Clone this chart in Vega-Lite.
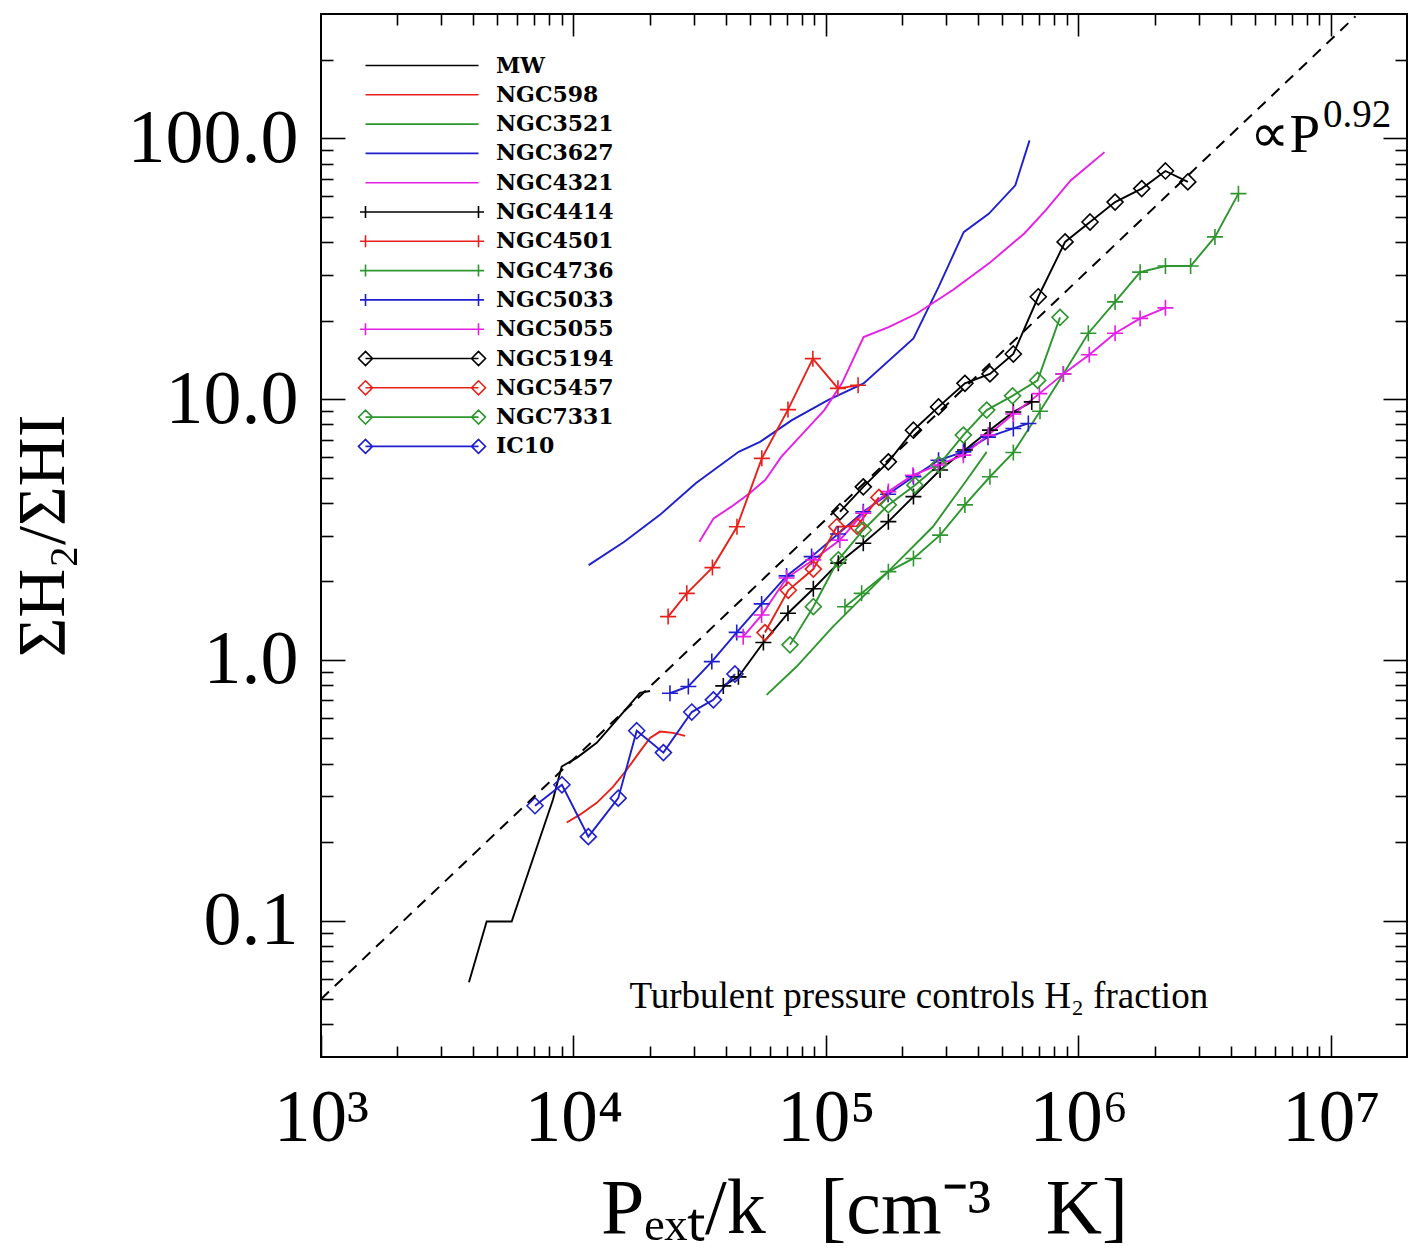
{
  "$schema": "https://vega.github.io/schema/vega-lite/v6.json",
  "width": 1086,
  "height": 1043,
  "autosize": {"type": "none"},
  "padding": {"left": 321, "top": 14, "right": 7, "bottom": 191},
  "background": "white",
  "config": {
    "view": {"stroke": "#000000", "strokeWidth": 2},
    "axis": {"domain": false, "grid": false, "tickColor": "#000000", "tickWidth": 1.6, "labelColor": "#000000", "titleColor": "#000000", "labelOverlap": false, "labelFlush": false, "labelBound": false}
  },
  "datasets": {
    "galaxies": [
      {"s": "MW", "x": 3855, "y": 0.058}, {"s": "MW", "x": 4530, "y": 0.0993}, {"s": "MW", "x": 5690, "y": 0.0993}, {"s": "MW", "x": 8290, "y": 0.291}, {"s": "MW", "x": 8980, "y": 0.39}, {"s": "MW", "x": 10300, "y": 0.421}, {"s": "MW", "x": 12360, "y": 0.481}, {"s": "MW", "x": 14830, "y": 0.589}, {"s": "MW", "x": 18330, "y": 0.748}, {"s": "MW", "x": 20100, "y": 0.76},
      {"s": "NGC598", "x": 9400, "y": 0.238}, {"s": "NGC598", "x": 10610, "y": 0.255}, {"s": "NGC598", "x": 12360, "y": 0.283}, {"s": "NGC598", "x": 14330, "y": 0.326}, {"s": "NGC598", "x": 16250, "y": 0.379}, {"s": "NGC598", "x": 18340, "y": 0.446}, {"s": "NGC598", "x": 20100, "y": 0.502}, {"s": "NGC598", "x": 22000, "y": 0.531}, {"s": "NGC598", "x": 24800, "y": 0.525}, {"s": "NGC598", "x": 27700, "y": 0.511},
      {"s": "NGC3521", "x": 58200, "y": 0.734}, {"s": "NGC3521", "x": 76500, "y": 0.943}, {"s": "NGC3521", "x": 106600, "y": 1.342}, {"s": "NGC3521", "x": 145000, "y": 1.807}, {"s": "NGC3521", "x": 196000, "y": 2.42}, {"s": "NGC3521", "x": 265000, "y": 3.24}, {"s": "NGC3521", "x": 361000, "y": 4.9}, {"s": "NGC3521", "x": 433000, "y": 6.28},
      {"s": "NGC3627", "x": 11480, "y": 2.31}, {"s": "NGC3627", "x": 15890, "y": 2.84}, {"s": "NGC3627", "x": 22000, "y": 3.6}, {"s": "NGC3627", "x": 30500, "y": 4.76}, {"s": "NGC3627", "x": 45100, "y": 6.28}, {"s": "NGC3627", "x": 54800, "y": 6.86}, {"s": "NGC3627", "x": 73300, "y": 8.31}, {"s": "NGC3627", "x": 101800, "y": 9.92}, {"s": "NGC3627", "x": 140900, "y": 11.5}, {"s": "NGC3627", "x": 222000, "y": 17.1}, {"s": "NGC3627", "x": 279000, "y": 26.9}, {"s": "NGC3627", "x": 351000, "y": 43.7}, {"s": "NGC3627", "x": 441000, "y": 51.4}, {"s": "NGC3627", "x": 562000, "y": 66.1}, {"s": "NGC3627", "x": 640000, "y": 98.3},
      {"s": "NGC4321", "x": 31500, "y": 2.84}, {"s": "NGC4321", "x": 35900, "y": 3.49}, {"s": "NGC4321", "x": 42200, "y": 3.87}, {"s": "NGC4321", "x": 49700, "y": 4.35}, {"s": "NGC4321", "x": 57500, "y": 4.9}, {"s": "NGC4321", "x": 66600, "y": 6.02}, {"s": "NGC4321", "x": 81000, "y": 7.39}, {"s": "NGC4321", "x": 98500, "y": 9.08}, {"s": "NGC4321", "x": 115600, "y": 11.5}, {"s": "NGC4321", "x": 140900, "y": 17.3}, {"s": "NGC4321", "x": 177000, "y": 18.9}, {"s": "NGC4321", "x": 229000, "y": 21.3}, {"s": "NGC4321", "x": 318000, "y": 26.2}, {"s": "NGC4321", "x": 441000, "y": 33.1}, {"s": "NGC4321", "x": 610000, "y": 43.2}, {"s": "NGC4321", "x": 741000, "y": 53.0}, {"s": "NGC4321", "x": 931000, "y": 69.0}, {"s": "NGC4321", "x": 1268000, "y": 88.6},
      {"s": "NGC4414", "x": 39200, "y": 0.795}, {"s": "NGC4414", "x": 45000, "y": 0.861}, {"s": "NGC4414", "x": 56500, "y": 1.166}, {"s": "NGC4414", "x": 70700, "y": 1.51}, {"s": "NGC4414", "x": 89100, "y": 1.875}, {"s": "NGC4414", "x": 111900, "y": 2.35}, {"s": "NGC4414", "x": 140500, "y": 2.8}, {"s": "NGC4414", "x": 176600, "y": 3.39}, {"s": "NGC4414", "x": 222000, "y": 4.23}, {"s": "NGC4414", "x": 283000, "y": 5.35}, {"s": "NGC4414", "x": 355000, "y": 6.38}, {"s": "NGC4414", "x": 446000, "y": 7.61}, {"s": "NGC4414", "x": 552000, "y": 8.93}, {"s": "NGC4414", "x": 653000, "y": 9.76},
      {"s": "NGC4501", "x": 23700, "y": 1.466}, {"s": "NGC4501", "x": 28100, "y": 1.8}, {"s": "NGC4501", "x": 35500, "y": 2.26}, {"s": "NGC4501", "x": 44400, "y": 3.24}, {"s": "NGC4501", "x": 55700, "y": 5.93}, {"s": "NGC4501", "x": 70700, "y": 9.12}, {"s": "NGC4501", "x": 88700, "y": 14.3}, {"s": "NGC4501", "x": 111500, "y": 11.0}, {"s": "NGC4501", "x": 134000, "y": 11.3},
      {"s": "NGC4736", "x": 118900, "y": 1.6}, {"s": "NGC4736", "x": 138400, "y": 1.8}, {"s": "NGC4736", "x": 176600, "y": 2.18}, {"s": "NGC4736", "x": 222000, "y": 2.45}, {"s": "NGC4736", "x": 283000, "y": 3.01}, {"s": "NGC4736", "x": 355000, "y": 3.93}, {"s": "NGC4736", "x": 446000, "y": 5.04}, {"s": "NGC4736", "x": 552000, "y": 6.24}, {"s": "NGC4736", "x": 704000, "y": 8.99}, {"s": "NGC4736", "x": 871000, "y": 12.5}, {"s": "NGC4736", "x": 1094000, "y": 17.9}, {"s": "NGC4736", "x": 1396000, "y": 23.6}, {"s": "NGC4736", "x": 1754000, "y": 30.7}, {"s": "NGC4736", "x": 2210000, "y": 32.4}, {"s": "NGC4736", "x": 2780000, "y": 32.4}, {"s": "NGC4736", "x": 3470000, "y": 41.9}, {"s": "NGC4736", "x": 4300000, "y": 61.4},
      {"s": "NGC5033", "x": 24100, "y": 0.745}, {"s": "NGC5033", "x": 28500, "y": 0.791}, {"s": "NGC5033", "x": 35300, "y": 0.985}, {"s": "NGC5033", "x": 44300, "y": 1.275}, {"s": "NGC5033", "x": 55600, "y": 1.64}, {"s": "NGC5033", "x": 69800, "y": 2.1}, {"s": "NGC5033", "x": 87700, "y": 2.49}, {"s": "NGC5033", "x": 111600, "y": 3.04}, {"s": "NGC5033", "x": 140500, "y": 3.7}, {"s": "NGC5033", "x": 176200, "y": 4.32}, {"s": "NGC5033", "x": 222000, "y": 5.04}, {"s": "NGC5033", "x": 279000, "y": 5.83}, {"s": "NGC5033", "x": 350000, "y": 6.28}, {"s": "NGC5033", "x": 438000, "y": 7.15}, {"s": "NGC5033", "x": 552000, "y": 7.72}, {"s": "NGC5033", "x": 633000, "y": 8.07},
      {"s": "NGC5055", "x": 47000, "y": 1.228}, {"s": "NGC5055", "x": 55600, "y": 1.486}, {"s": "NGC5055", "x": 69800, "y": 2.06}, {"s": "NGC5055", "x": 89100, "y": 2.42}, {"s": "NGC5055", "x": 113500, "y": 2.88}, {"s": "NGC5055", "x": 140500, "y": 3.65}, {"s": "NGC5055", "x": 176600, "y": 4.42}, {"s": "NGC5055", "x": 221000, "y": 5.11}, {"s": "NGC5055", "x": 278000, "y": 5.59}, {"s": "NGC5055", "x": 350000, "y": 6.1}, {"s": "NGC5055", "x": 439000, "y": 7.28}, {"s": "NGC5055", "x": 552000, "y": 8.77}, {"s": "NGC5055", "x": 700000, "y": 10.5}, {"s": "NGC5055", "x": 871000, "y": 12.5}, {"s": "NGC5055", "x": 1103000, "y": 14.8}, {"s": "NGC5055", "x": 1396000, "y": 17.9}, {"s": "NGC5055", "x": 1754000, "y": 20.4}, {"s": "NGC5055", "x": 2210000, "y": 22.4},
      {"s": "NGC5194", "x": 113600, "y": 3.7}, {"s": "NGC5194", "x": 140500, "y": 4.61}, {"s": "NGC5194", "x": 176600, "y": 5.75}, {"s": "NGC5194", "x": 222000, "y": 7.6}, {"s": "NGC5194", "x": 279000, "y": 9.34}, {"s": "NGC5194", "x": 355000, "y": 11.5}, {"s": "NGC5194", "x": 446000, "y": 12.5}, {"s": "NGC5194", "x": 552000, "y": 14.9}, {"s": "NGC5194", "x": 693000, "y": 24.7}, {"s": "NGC5194", "x": 885000, "y": 40.1}, {"s": "NGC5194", "x": 1111000, "y": 47.8}, {"s": "NGC5194", "x": 1396000, "y": 57.0}, {"s": "NGC5194", "x": 1780000, "y": 64.2}, {"s": "NGC5194", "x": 2210000, "y": 75.0}, {"s": "NGC5194", "x": 2710000, "y": 68.1},
      {"s": "NGC5457", "x": 57300, "y": 1.273}, {"s": "NGC5457", "x": 70900, "y": 1.85}, {"s": "NGC5457", "x": 89100, "y": 2.23}, {"s": "NGC5457", "x": 110300, "y": 3.24}, {"s": "NGC5457", "x": 132700, "y": 3.26}, {"s": "NGC5457", "x": 162000, "y": 4.2},
      {"s": "NGC7331", "x": 72000, "y": 1.142}, {"s": "NGC7331", "x": 89100, "y": 1.6}, {"s": "NGC7331", "x": 111900, "y": 2.42}, {"s": "NGC7331", "x": 140500, "y": 3.15}, {"s": "NGC7331", "x": 176600, "y": 3.93}, {"s": "NGC7331", "x": 225000, "y": 4.68}, {"s": "NGC7331", "x": 280000, "y": 5.6}, {"s": "NGC7331", "x": 350000, "y": 7.28}, {"s": "NGC7331", "x": 433000, "y": 9.08}, {"s": "NGC7331", "x": 548000, "y": 10.3}, {"s": "NGC7331", "x": 689000, "y": 11.8}, {"s": "NGC7331", "x": 845000, "y": 20.6},
      {"s": "IC10", "x": 7040, "y": 0.276}, {"s": "IC10", "x": 9000, "y": 0.332}, {"s": "IC10", "x": 11450, "y": 0.21}, {"s": "IC10", "x": 15040, "y": 0.295}, {"s": "IC10", "x": 17800, "y": 0.535}, {"s": "IC10", "x": 22700, "y": 0.441}, {"s": "IC10", "x": 29400, "y": 0.631}, {"s": "IC10", "x": 35800, "y": 0.703}, {"s": "IC10", "x": 43600, "y": 0.883}
    ],
    "powerlaw": [
      {"x": 1000, "y": 0.05},
      {"x": 12500000, "y": 293.9}
    ]
  },
  "layer": [
    {
      "data": {"name": "galaxies"},
      "mark": {"type": "line", "strokeWidth": 1.9, "clip": true},
      "encoding": {
        "x": {"field": "x", "type": "quantitative", "scale": {"type": "log", "domain": [1000, 20000000], "nice": false},
          "axis": {"orient": "bottom", "values": [1000,2000,3000,4000,5000,6000,7000,8000,9000,10000,20000,30000,40000,50000,60000,70000,80000,90000,100000,200000,300000,400000,500000,600000,700000,800000,900000,1000000,2000000,3000000,4000000,5000000,6000000,7000000,8000000,9000000,10000000],
            "tickSize": {"condition": {"test": "abs(log(datum.value)/LN10 - round(log(datum.value)/LN10)) < 0.01", "value": -22}, "value": -11},
            "labelExpr": "abs(log(datum.value)/LN10 - round(log(datum.value)/LN10)) < 0.01 ? '10' + ['⁰','¹','²','³','⁴','⁵','⁶','⁷','⁸'][round(log(datum.value)/LN10)] : ''",
            "labelFont": "Liberation Serif", "labelFontSize": 73, "labelPadding": 47,
            "title": "Pₑₓₜ/k\u2002\u2009[cm⁻³\u2002\u2009K]", "titleFont": "Liberation Serif", "titleFontSize": 78, "titleFontWeight": "normal", "titleBaseline": "alphabetic", "titleY": 175}},
        "y": {"field": "y", "type": "quantitative", "scale": {"type": "log", "domain": [0.03, 300], "nice": false},
          "axis": {"orient": "left", "values": [0.04,0.05,0.06,0.07,0.08,0.09,0.1,0.2,0.3,0.4,0.5,0.6,0.7,0.8,0.9,1,2,3,4,5,6,7,8,9,10,20,30,40,50,60,70,80,90,100,200],
            "tickSize": {"condition": {"test": "abs(log(datum.value)/LN10 - round(log(datum.value)/LN10)) < 0.01", "value": -24}, "value": -12},
            "labelExpr": "abs(log(datum.value)/LN10 - round(log(datum.value)/LN10)) < 0.01 ? format(datum.value, '.1f') : ''",
            "labelFont": "Liberation Serif", "labelFontSize": 76, "labelPadding": 47,
            "title": "ΣH₂/ΣHI", "titleFont": "Liberation Serif", "titleFontSize": 68, "titleFontWeight": "normal", "titleBaseline": "alphabetic", "titleAngle": 270, "titleX": -258}},
        "color": {"field": "s", "type": "nominal",
          "scale": {"domain": ["MW","NGC598","NGC3521","NGC3627","NGC4321","NGC4414","NGC4501","NGC4736","NGC5033","NGC5055","NGC5194","NGC5457","NGC7331","IC10"],
                    "range": ["#000000","#e8201a","#2e962e","#1f1fd0","#e61ee6","#000000","#e8201a","#2e962e","#1f1fd0","#e61ee6","#000000","#e8201a","#2e962e","#1f1fd0"]},
          "legend": null}
      }
    },
    {
      "data": {"name": "galaxies"},
      "transform": [{"filter": {"field": "s", "oneOf": ["NGC4414","NGC4501","NGC4736","NGC5033","NGC5055","NGC5194","NGC5457","NGC7331","IC10"]}}],
      "mark": {"type": "point", "filled": false, "strokeWidth": 1.6, "size": 256, "opacity": 1, "clip": true},
      "encoding": {
        "x": {"field": "x", "type": "quantitative", "scale": {"type": "log", "domain": [1000, 20000000], "nice": false}, "axis": null},
        "y": {"field": "y", "type": "quantitative", "scale": {"type": "log", "domain": [0.03, 300], "nice": false}, "axis": null},
        "color": {"field": "s", "type": "nominal",
          "scale": {"domain": ["NGC4414","NGC4501","NGC4736","NGC5033","NGC5055","NGC5194","NGC5457","NGC7331","IC10"],
                    "range": ["#000000","#e8201a","#2e962e","#1f1fd0","#e61ee6","#000000","#e8201a","#2e962e","#1f1fd0"]},
          "legend": null},
        "shape": {"field": "s", "type": "nominal",
          "scale": {"domain": ["NGC4414","NGC4501","NGC4736","NGC5033","NGC5055","NGC5194","NGC5457","NGC7331","IC10"],
                    "range": ["M-1,0H1M0,-1V1","M-1,0H1M0,-1V1","M-1,0H1M0,-1V1","M-1,0H1M0,-1V1","M-1,0H1M0,-1V1","M0,-1L1,0L0,1L-1,0Z","M0,-1L1,0L0,1L-1,0Z","M0,-1L1,0L0,1L-1,0Z","M0,-1L1,0L0,1L-1,0Z"]},
          "legend": null}
      }
    },
    {
      "data": {"name": "powerlaw"},
      "mark": {"type": "line", "strokeDash": [11, 8], "strokeWidth": 2, "color": "#000000", "clip": true},
      "encoding": {
        "x": {"field": "x", "type": "quantitative", "scale": {"type": "log", "domain": [1000, 20000000], "nice": false},
          "axis": {"orient": "top", "values": [2000,3000,4000,5000,6000,7000,8000,9000,10000,20000,30000,40000,50000,60000,70000,80000,90000,100000,200000,300000,400000,500000,600000,700000,800000,900000,1000000,2000000,3000000,4000000,5000000,6000000,7000000,8000000,9000000,10000000],
            "tickSize": {"condition": {"test": "abs(log(datum.value)/LN10 - round(log(datum.value)/LN10)) < 0.01", "value": -22}, "value": -11},
            "labels": false, "title": null}},
        "y": {"field": "y", "type": "quantitative", "scale": {"type": "log", "domain": [0.03, 300], "nice": false},
          "axis": {"orient": "right", "values": [0.04,0.05,0.06,0.07,0.08,0.09,0.1,0.2,0.3,0.4,0.5,0.6,0.7,0.8,0.9,1,2,3,4,5,6,7,8,9,10,20,30,40,50,60,70,80,90,100,200],
            "tickSize": {"condition": {"test": "abs(log(datum.value)/LN10 - round(log(datum.value)/LN10)) < 0.01", "value": -24}, "value": -12},
            "labels": false, "title": null}}
      }
    },
    {
      "data": {"name": "galaxies"},
      "mark": {"type": "point", "filled": false, "opacity": 0, "size": 100},
      "encoding": {
        "x": {"field": "x", "type": "quantitative", "scale": {"type": "log", "domain": [1000, 20000000], "nice": false}, "axis": null},
        "y": {"field": "y", "type": "quantitative", "scale": {"type": "log", "domain": [0.03, 300], "nice": false}, "axis": null},
        "color": {"field": "s", "type": "nominal",
          "scale": {"domain": ["MW","NGC598","NGC3521","NGC3627","NGC4321","NGC4414","NGC4501","NGC4736","NGC5033","NGC5055","NGC5194","NGC5457","NGC7331","IC10"],
                    "range": ["#000000","#e8201a","#2e962e","#1f1fd0","#e61ee6","#000000","#e8201a","#2e962e","#1f1fd0","#e61ee6","#000000","#e8201a","#2e962e","#1f1fd0"]},
          "legend": {"title": null, "orient": "none", "legendX": 45, "legendY": 40.5, "padding": 0, "direction": "vertical", "columns": 1, "gridAlign": "all", "symbolSize": 100, "symbolStrokeWidth": 1.6, "symbolOffset": 45, "labelOffset": 63, "labelFont": "DejaVu Serif", "labelFontWeight": "bold", "labelFontSize": 22, "labelColor": "#000000", "rowPadding": 7.3, "labelLimit": 400}},
        "shape": {"field": "s", "type": "nominal",
          "scale": {"domain": ["MW","NGC598","NGC3521","NGC3627","NGC4321","NGC4414","NGC4501","NGC4736","NGC5033","NGC5055","NGC5194","NGC5457","NGC7331","IC10"],
                    "range": ["M-11.3,0H11.3","M-11.3,0H11.3","M-11.3,0H11.3","M-11.3,0H11.3","M-11.3,0H11.3",
                              "M-12.4,0H12.4M-11.3,-1.2V1.2M11.3,-1.2V1.2","M-12.4,0H12.4M-11.3,-1.2V1.2M11.3,-1.2V1.2","M-12.4,0H12.4M-11.3,-1.2V1.2M11.3,-1.2V1.2","M-12.4,0H12.4M-11.3,-1.2V1.2M11.3,-1.2V1.2","M-12.4,0H12.4M-11.3,-1.2V1.2M11.3,-1.2V1.2",
                              "M-11.3,0H11.3M-12.7,0L-11.3,-1.4L-9.9,0L-11.3,1.4ZM9.9,0L11.3,-1.4L12.7,0L11.3,1.4Z","M-11.3,0H11.3M-12.7,0L-11.3,-1.4L-9.9,0L-11.3,1.4ZM9.9,0L11.3,-1.4L12.7,0L11.3,1.4Z","M-11.3,0H11.3M-12.7,0L-11.3,-1.4L-9.9,0L-11.3,1.4ZM9.9,0L11.3,-1.4L12.7,0L11.3,1.4Z","M-11.3,0H11.3M-12.7,0L-11.3,-1.4L-9.9,0L-11.3,1.4ZM9.9,0L11.3,-1.4L12.7,0L11.3,1.4Z"]},
          "legend": {"title": null, "orient": "none", "legendX": 45, "legendY": 40.5, "padding": 0, "direction": "vertical", "columns": 1, "gridAlign": "all", "symbolSize": 100, "symbolStrokeWidth": 1.6, "symbolOffset": 45, "labelOffset": 63, "labelFont": "DejaVu Serif", "labelFontWeight": "bold", "labelFontSize": 22, "labelColor": "#000000", "rowPadding": 7.3, "labelLimit": 400}}
      }
    },
    {
      "data": {"values": [{"label": "∝P", "x": 9050000, "y": 88.6}]},
      "mark": {"type": "text", "align": "right", "baseline": "alphabetic", "font": "Liberation Serif", "fontSize": 55, "color": "#000000"},
      "encoding": {
        "x": {"field": "x", "type": "quantitative", "scale": {"type": "log", "domain": [1000, 20000000], "nice": false}, "axis": null},
        "y": {"field": "y", "type": "quantitative", "scale": {"type": "log", "domain": [0.03, 300], "nice": false}, "axis": null},
        "text": {"field": "label"}
      }
    },
    {
      "data": {"values": [{"label": "0.92", "x": 9290000, "y": 110.5}]},
      "mark": {"type": "text", "align": "left", "baseline": "alphabetic", "font": "Liberation Serif", "fontSize": 39, "color": "#000000"},
      "encoding": {
        "x": {"field": "x", "type": "quantitative", "scale": {"type": "log", "domain": [1000, 20000000], "nice": false}, "axis": null},
        "y": {"field": "y", "type": "quantitative", "scale": {"type": "log", "domain": [0.03, 300], "nice": false}, "axis": null},
        "text": {"field": "label"}
      }
    },
    {
      "data": {"values": [{"label": "Turbulent pressure controls H₂ fraction", "x": 233000, "y": 0.0464}]},
      "mark": {"type": "text", "align": "center", "baseline": "alphabetic", "font": "Liberation Serif", "fontSize": 37, "color": "#000000"},
      "encoding": {
        "x": {"field": "x", "type": "quantitative", "scale": {"type": "log", "domain": [1000, 20000000], "nice": false}, "axis": null},
        "y": {"field": "y", "type": "quantitative", "scale": {"type": "log", "domain": [0.03, 300], "nice": false}, "axis": null},
        "text": {"field": "label"}
      }
    }
  ],
  "resolve": {"scale": {"color": "independent", "shape": "independent"}, "axis": {"x": "independent", "y": "independent"}}
}
